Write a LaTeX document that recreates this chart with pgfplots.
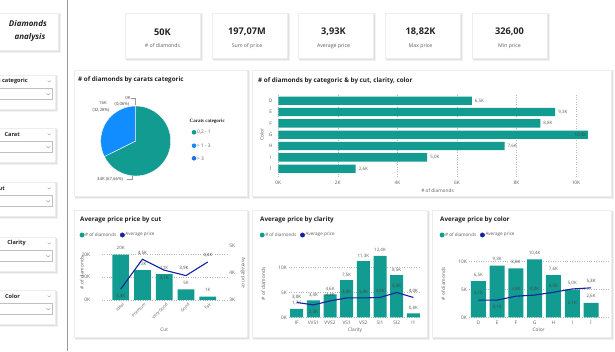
\documentclass[border=0pt]{standalone}
\usepackage{pgfplots}
\pgfplotsset{compat=1.18}
\usepackage{fontspec}
\setmainfont{Open Sans}
\newfontfamily\legserif{Liberation Serif}
\definecolor{tealbar}{RGB}{18,155,144}
\definecolor{pbblue}{RGB}{17,141,255}
\definecolor{pbblue3}{RGB}{30,115,235}
\definecolor{darkline}{RGB}{18,35,158}
\definecolor{ticktext}{RGB}{96,94,92}
\definecolor{titletext}{RGB}{37,36,35}
\definecolor{gridc}{RGB}{185,185,185}
\newcommand{\fs}[1]{\fontsize{#1}{#1}\selectfont}
\newcommand{\panel}[4]{%
 \fill[black!5] ({#1+0.5},{351-(#4)-3.2}) rectangle ({#3+3.2},{351-(#2)-0.5});
 \fill[black!12] ({#1+1},{351-(#4)-1.8}) rectangle ({#3+1.8},{351-(#2)-1});
 \fill[white] (#1,{351-(#4)}) rectangle (#3,{351-(#2)});
 \draw[black!7, line width=0.3pt] (#1,{351-(#4)}) rectangle (#3,{351-(#2)});
}
\newcommand{\slicer}[3]{%
 \panel{-5}{#1}{55}{#1+34}
 \node[anchor=east, font=\bfseries\fs{5.6}, text=titletext, inner sep=0pt] at (#2,{351-(#1)-6.5}) {#3};
 \draw[black!40, line width=0.35pt] (47.8,{351-(#1)-5.6}) -- (49.3,{351-(#1)-7}) -- (50.8,{351-(#1)-5.6});
 \draw[black!25, line width=0.3pt] (-5,{351-(#1)-13.3}) rectangle (52,{351-(#1)-24.3});
 \draw[black!45, line width=0.35pt] (46.4,{351-(#1)-18.3}) -- (48.3,{351-(#1)-20}) -- (50.2,{351-(#1)-18.3});
}
\tikzset{lbl/.style={font=\fs{4.5}, text=titletext!85, inner sep=0pt}}
\pgfplotsset{
 pbi/.style={scale only axis, anchor=south west, clip=false,
   axis line style={draw=none}, tick style={draw=none}, major tick length=0pt,
   ticklabel style={font=\fs{4.8}, text=ticktext},
   label style={font=\fs{4.8}, text=ticktext},
   grid style={gridc, dotted, line width=0.5pt}},
 pbilegend/.style={legend style={at={#1}, anchor=west, draw=none, fill=none,
   font=\fs{4.6}, text=ticktext, legend columns=-1, inner sep=0pt,
   nodes={inner sep=0.7pt},
   /tikz/every even column/.append style={column sep=3pt}}},
}
\def\pieA{67.66}
\def\pieB{32.28}
\def\pieC{0.06}
\begin{document}
\begin{tikzpicture}[x=1pt,y=1pt]
\useasboundingbox (0,0) rectangle (615,351);
\fill[white] (0,0) rectangle (615,351);
% separator
\draw[black!40, line width=0.8pt] (67,0) -- (67,351);
% title card
\panel{-5}{13}{58}{50}
\node[anchor=east, font=\bfseries\itshape\fs{8}, text=titletext, inner sep=0pt] at (47,{351-23.5}) {Diamonds};
\node[font=\bfseries\itshape\fs{8}, text=titletext, inner sep=0pt] at (30,{351-37.7}) {analysis};
% slicers
\slicer{75}{28}{Carats categoric}
\slicer{128}{20}{Carat}
\slicer{182}{5}{Cut}
\slicer{237}{26}{Clarity}
\slicer{290}{20}{Color}
% KPI cards
\panel{125}{13}{200}{58}
\panel{212}{13}{287}{58}
\panel{298}{13}{373}{58}
\panel{385}{13}{460}{58}
\panel{472}{13}{547}{58}
\node[font=\bfseries\fs{9.2}, text=titletext, inner sep=0pt] at (162.5,319) {50K};
\node[font=\bfseries\fs{9.2}, text=titletext, inner sep=0pt] at (247,319) {197,07M};
\node[font=\bfseries\fs{9.2}, text=titletext, inner sep=0pt] at (333.5,319) {3,93K};
\node[font=\bfseries\fs{9.2}, text=titletext, inner sep=0pt] at (420.5,319) {18,82K};
\node[font=\bfseries\fs{9.2}, text=titletext, inner sep=0pt] at (509.5,319) {326,00};
\node[font=\fs{5.2}, text=ticktext, inner sep=0pt] at (162.5,305) {\# of diamonds};
\node[font=\fs{5.2}, text=ticktext, inner sep=0pt] at (247,305) {Sum of price};
\node[font=\fs{5.2}, text=ticktext, inner sep=0pt] at (333.5,305) {Average price};
\node[font=\fs{5.2}, text=ticktext, inner sep=0pt] at (420.5,305) {Max price};
\node[font=\fs{5.2}, text=ticktext, inner sep=0pt] at (509.5,305) {Min price};
% panels
\panel{74}{70}{247}{196}
\panel{252}{70}{611}{196}
\panel{74}{210}{247}{337}
\panel{252}{210}{427}{337}
\panel{432}{210}{611}{337}
% titles
\node[anchor=west, font=\bfseries\fs{6.3}, text=titletext, inner sep=0pt] at (78,{351-80}) {\# of diamonds by carats categoric};
\node[anchor=west, font=\bfseries\fs{6.3}, text=titletext, inner sep=0pt] at (258,{351-80.5}) {\# of diamonds by categoric \& by cut, clarity, color};
\node[anchor=west, font=\bfseries\fs{6.3}, text=titletext, inner sep=0pt] at (80,{351-220}) {Average price price by cut};
\node[anchor=west, font=\bfseries\fs{6.3}, text=titletext, inner sep=0pt] at (260,{351-220}) {Average price by clarity};
\node[anchor=west, font=\bfseries\fs{6.3}, text=titletext, inner sep=0pt] at (440,{351-220}) {Average price by color};
% pie
\pgfmathsetmacro{\aA}{90-3.6*\pieA}
\pgfmathsetmacro{\aB}{\aA-3.6*\pieB}
\pgfmathsetmacro{\aC}{\aB-3.6*\pieC}
\fill[tealbar, draw=white, line width=0.4pt] (135.7,210) -- ++(90:35) arc[start angle=90, end angle=\aA, radius=35] -- cycle;
\fill[pbblue, draw=white, line width=0.4pt] (135.7,210) -- ++(\aA:35) arc[start angle=\aA, end angle=\aB, radius=35] -- cycle;
\fill[pbblue3] (135.7,210) -- ++(\aB:35) arc[start angle=\aB, end angle=\aC, radius=35] -- cycle;
\node[lbl, font=\fs{4.3}] at (128,252.7) {0K};
\node[lbl, font=\fs{4.3}] at (103,247.7) {16K};
\node[lbl, font=\fs{4.3}] at (122,246.7) {(0,06\%)};
\node[lbl, font=\fs{4.3}] at (101,240.3) {(32,28\%)};
\draw[black!40, line width=0.3pt] (130.5,252.7) -- (134.8,252.7) -- (134.8,245.8);
\node[lbl, font=\fs{4.3}] at (110,171.7) {34K (67,66\%)};
\draw[black!40, line width=0.3pt] (126.5,172.3) -- (132,172.3) -- (132,175.3);
\node[anchor=west, font=\legserif\bfseries\fs{5}, text=titletext, inner sep=0pt] at (189.5,229.3) {Carats categoric};
\fill[tealbar] (194,218.7) circle (2.3);
\fill[pbblue] (194,205.3) circle (2.3);
\fill[pbblue3] (194,192.7) circle (2.3);
\node[anchor=west, font=\fs{4.8}, text=ticktext, inner sep=0pt] at (197,218.7) {0,2 - 1};
\node[anchor=west, font=\fs{4.8}, text=ticktext, inner sep=0pt] at (197,205.3) {> 1 - 3};
\node[anchor=west, font=\fs{4.8}, text=ticktext, inner sep=0pt] at (197,192.7) {> 3};
% horizontal bar chart
\begin{axis}[pbi, at={(278.3pt,174.4pt)}, width=318.5pt, height=83.8pt,
  xmin=0, xmax=10.7, ymin=-0.7, ymax=6.7,
  xtick={0,2,4,6,8,10}, xticklabels={0K,2K,4K,6K,8K,10K}, xmajorgrids,
  ytick={0,...,6}, yticklabels={J,I,H,G,F,E,D},
  xticklabel style={anchor=center, yshift=-6.4pt},
  yticklabel style={anchor=center, xshift=-7.6pt},
  xlabel={\# of diamonds}, xlabel style={at={(axis description cs:0.5,-0.168)}, anchor=center},
  ylabel={Color}, ylabel style={at={(axis description cs:-0.052,0.5)}, anchor=center}]
\addplot[xbar, bar width=8.3pt, fill=tealbar, draw=none, point meta=explicit symbolic,
  nodes near coords, nodes near coords style={font=\fs{4.5}, text=ticktext, anchor=west, inner sep=0pt, xshift=3pt}]
  coordinates {(6.5,6)[6,5K] (9.3,5)[9,3K] (8.8,4)[8,8K] (10.4,3)[] (7.6,2)[7,6K] (5.0,1)[5,0K] (2.6,0)[2,6K]};
\node[lbl, anchor=east, xshift=-1.5pt] at (axis cs:10.4,3) {10,4K};
\end{axis}
% cut chart: bars
\begin{axis}[pbi, at={(101.7pt,51pt)}, width=125pt, height=54.3pt,
  xmin=-0.87, xmax=4.87, ymin=0, ymax=23.76,
  xtick={0,...,4}, xticklabels={Ideal,Premium,Very Good,Good,Fair},
  ytick={0,10,20}, yticklabels={0K,10K,20K}, ymajorgrids,
  xticklabel style={font=\fs{4.1}, anchor=north east, inner sep=0pt, xshift=1.5pt, yshift=-2.5pt, rotate=45},
  yticklabel style={anchor=east, inner sep=0pt, xshift=-11.5pt},
  xlabel={Cut}, xlabel style={at={(axis description cs:0.5,-0.552)}, anchor=center},
  ylabel={\# of diamonds}, ylabel style={at={(axis description cs:-0.16,0.5)}, anchor=center},
  pbilegend={(axis description cs:-0.178,1.197)}]
\addlegendimage{legend image code/.code={\fill[tealbar] (1.5pt,0pt) circle (2.2pt);}}
\addlegendentry{\# of diamonds}
\addlegendimage{legend image code/.code={\fill[darkline] (1.5pt,0pt) circle (2.2pt);}}
\addlegendentry{Average price}
\addplot[ybar, bar width=16.7pt, fill=tealbar, draw=none, forget plot, point meta=explicit symbolic,
  nodes near coords, nodes near coords style={font=\fs{4.5}, text=ticktext, anchor=center, inner sep=0pt, yshift=6.5pt}]
  coordinates {(0,19.9)[20K] (1,13.1)[13K] (2,11.3)[11K] (3,4.6)[5K] (4,1.5)[1K]};
\end{axis}
% cut chart: line
\begin{axis}[pbi, at={(101.7pt,51pt)}, width=125pt, height=54.3pt,
  xmin=-0.87, xmax=4.87, ymin=3, ymax=5, xtick=\empty,
  ytick={3,4,5}, yticklabels={3K,4K,5K}, yticklabel pos=right,
  yticklabel style={anchor=west, inner sep=0pt, xshift=2.5pt},
  ylabel={Average price}, ylabel style={at={(axis description cs:1.13,0.5)}, anchor=center, rotate=180}]
\addplot[darkline, line width=1.1pt, mark=none] coordinates {(0,3.4) (1,4.5) (2,4.1) (3,3.9) (4,4.4)};
\node[lbl, yshift=-6.9pt] at (axis cs:0,3.4) {3,4K};
\node[lbl, yshift=6.6pt] at (axis cs:1,4.5) {4,5K};
\node[lbl, yshift=-8.2pt] at (axis cs:2,4.1) {4,1K};
\node[lbl, yshift=7pt, xshift=-2pt] at (axis cs:3,3.9) {3,9K};
\node[lbl, yshift=7pt] at (axis cs:4,4.4) {4,4K};
\end{axis}
% clarity chart
\begin{axis}[pbi, at={(289pt,33.7pt)}, width=132pt, height=67pt,
  xmin=-0.46, xmax=7.46, ymin=0, ymax=13.5,
  xtick={0,...,7}, xticklabels={IF,VVS1,VVS2,VS1,VS2,SI1,SI2,I1},
  ytick={0,5,10}, yticklabels={0K,5K,10K}, ymajorgrids,
  xticklabel style={anchor=center, yshift=-5pt},
  yticklabel style={anchor=east, inner sep=0pt, xshift=-2pt},
  xlabel={Clarity}, xlabel style={at={(axis description cs:0.5,-0.19)}, anchor=center},
  ylabel={\# of diamonds}, ylabel style={at={(axis description cs:-0.195,0.5)}, anchor=center},
  pbilegend={(axis description cs:-0.223,1.228)}]
\addlegendimage{legend image code/.code={\fill[tealbar] (1.5pt,0pt) circle (2.2pt);}}
\addlegendentry{\# of diamonds}
\addlegendimage{legend image code/.code={\fill[darkline] (1.5pt,0pt) circle (2.2pt);}}
\addlegendentry{Average price}
\addplot[ybar, bar width=13pt, fill=tealbar, draw=none, forget plot, point meta=explicit symbolic,
  nodes near coords, nodes near coords style={font=\fs{4.5}, text=ticktext, anchor=center, inner sep=0pt, yshift=5.3pt}]
  coordinates {(0,1.7)[1,7K] (1,3.4)[3,4K] (2,4.6)[4,6K] (3,7.5)[7,5K] (4,11.3)[11,3K] (5,12.4)[12,4K] (6,8.5)[8,5K] (7,0.8)[0,8K]};
\addplot[darkline, line width=1.1pt, mark=none, forget plot] coordinates {(0,3.0) (1,2.5) (2,3.3) (3,3.9) (4,3.9) (5,4.0) (6,5.0) (7,4.0)};
\node[lbl, yshift=5.7pt] at (axis cs:0,3.0) {3,0K};
\node[lbl, yshift=-6.8pt] at (axis cs:1,2.5) {2,5K};
\node[lbl, yshift=5.5pt] at (axis cs:2,3.3) {3,3K};
\node[lbl, yshift=6pt] at (axis cs:3,3.9) {3,9K};
\node[lbl, yshift=6pt] at (axis cs:4,3.9) {3,9K};
\node[lbl, yshift=6pt] at (axis cs:5,4.0) {4,0K};
\node[lbl, yshift=6pt] at (axis cs:6,5.0) {5,0K};
\node[lbl, yshift=6.3pt] at (axis cs:7,4.0) {4,0K};
\end{axis}
% color chart
\begin{axis}[pbi, at={(469pt,33.7pt)}, width=139.3pt, height=66.7pt,
  xmin=-0.5, xmax=6.92, ymin=0, ymax=12,
  xtick={0,...,6}, xticklabels={D,E,F,G,H,I,J},
  ytick={0,5,10}, yticklabels={0K,5K,10K}, ymajorgrids,
  xticklabel style={anchor=center, yshift=-5pt},
  yticklabel style={anchor=east, inner sep=0pt, xshift=-2pt},
  xlabel={Color}, xlabel style={at={(axis description cs:0.5,-0.19)}, anchor=center},
  ylabel={\# of diamonds}, ylabel style={at={(axis description cs:-0.184,0.5)}, anchor=center},
  pbilegend={(axis description cs:-0.212,1.234)}]
\addlegendimage{legend image code/.code={\fill[tealbar] (1.5pt,0pt) circle (2.2pt);}}
\addlegendentry{\# of diamonds}
\addlegendimage{legend image code/.code={\fill[darkline] (1.5pt,0pt) circle (2.2pt);}}
\addlegendentry{Average price}
\addplot[ybar, bar width=15pt, fill=tealbar, draw=none, forget plot, point meta=explicit symbolic,
  nodes near coords, nodes near coords style={font=\fs{4.5}, text=ticktext, anchor=center, inner sep=0pt, yshift=6.2pt}]
  coordinates {(0,6.5)[6,5K] (1,9.3)[9,3K] (2,8.8)[8,8K] (3,10.4)[10,4K] (4,7.6)[7,6K] (5,5.0)[5,0K] (6,2.6)[2,6K]};
\addplot[darkline, line width=1.1pt, mark=none, forget plot] coordinates {(0,3.1) (1,3.1) (2,3.8) (3,4.0) (4,4.5) (5,5.1) (6,5.3)};
\node[lbl, yshift=6.8pt] at (axis cs:0,3.1) {3,1K};
\node[lbl, yshift=-6.6pt] at (axis cs:1,3.1) {3,1K};
\node[lbl, yshift=6.9pt] at (axis cs:2,3.8) {3,8K};
\node[lbl, yshift=5.8pt] at (axis cs:3,4.0) {4,0K};
\node[lbl, yshift=6.3pt] at (axis cs:4,4.5) {4,5K};
\node[lbl, yshift=-14pt] at (axis cs:5,5.1) {5,1K};
\node[lbl, yshift=6.8pt] at (axis cs:6,5.3) {5,3K};
\end{axis}
\end{tikzpicture}
\end{document}
